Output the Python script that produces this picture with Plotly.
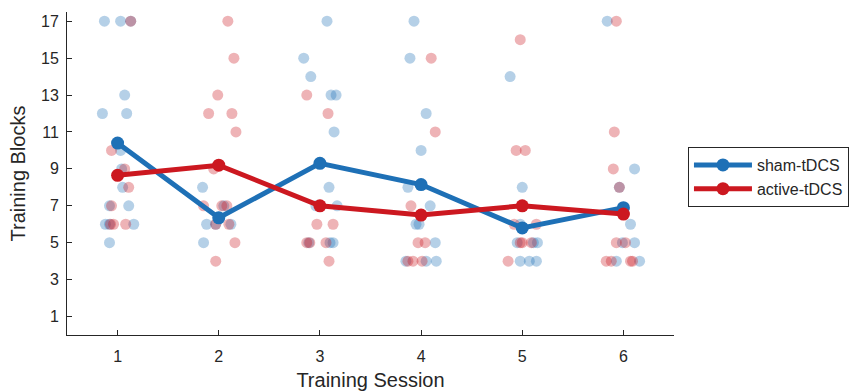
import plotly.graph_objects as go

sessions = [1, 2, 3, 4, 5, 6]
sham_mean = [10.4, 6.35, 9.3, 8.15, 5.8, 6.9]
active_mean = [8.65, 9.2, 7.0, 6.5, 7.0, 6.55]

sham_x = [0.87, 1.03, 1.13, 1.07, 0.85, 1.09, 1.03, 1.04, 1.05, 0.92, 1.11, 0.88, 0.92, 1.16, 0.92,
          1.84, 2.05, 1.88, 1.97, 2.12, 1.85,
          3.07, 2.84, 2.91, 3.11, 3.16, 3.14, 3.09, 3.17, 2.96, 3.10, 3.13, 2.89,
          3.93, 3.89, 4.05, 4.00, 3.87, 4.09, 3.95, 3.98, 4.14, 4.15, 4.05, 3.85,
          4.88, 5.00, 4.98, 4.95, 5.11, 5.15, 4.98, 5.07, 5.14,
          5.84, 6.11, 5.96, 6.07, 6.11, 5.99, 5.93, 6.16]
sham_y = [17, 17, 17, 13, 12, 12, 10, 9, 8, 7, 7, 6, 6, 6, 5,
          8, 7, 6, 6, 6, 5,
          17, 15, 14, 13, 13, 11, 8, 7, 7, 5, 5, 5,
          17, 15, 12, 10, 8, 7, 6, 6, 5, 4, 4, 4,
          14, 8, 6, 5, 5, 5, 4, 4, 4,
          17, 9, 8, 6, 5, 5, 4, 4]

active_x = [1.13, 0.94, 1.07, 1.11, 0.94, 0.93, 0.96, 1.08,
            2.09, 2.15, 1.99, 1.90, 2.13, 2.17, 1.95, 1.85, 2.03, 2.08, 1.97, 2.10, 2.16, 1.97,
            2.87, 3.08, 2.97, 3.13, 2.87, 2.90, 3.06, 3.09,
            4.10, 4.14, 3.90, 3.97, 4.04, 3.87, 3.92, 4.01,
            4.98, 4.94, 5.03, 4.92, 5.14, 4.98, 5.09, 4.86, 5.00,
            5.93, 5.91, 5.90, 5.96, 5.93, 6.02, 5.83, 5.88, 6.07, 6.09]
active_y = [17, 10, 9, 8, 7, 6, 6, 6,
            17, 15, 13, 12, 12, 11, 9, 7, 7, 7, 6, 6, 5, 4,
            13, 12, 6, 6, 5, 5, 5, 4,
            15, 11, 7, 5, 5, 4, 4, 4,
            16, 10, 10, 6, 6, 5, 5, 4, 5,
            17, 11, 9, 8, 5, 5, 4, 4, 4, 4]

y_ticks = [1, 3, 5, 7, 9, 11, 13, 15, 17]

BLUE = "rgb(30,112,182)"
RED = "rgb(204,24,32)"
FONT = "Arial, Liberation Sans, sans-serif"
AX = "#262626"

fig = go.Figure()
fig.add_trace(go.Scatter(x=sham_x, y=sham_y, mode="markers", showlegend=False,
                         marker=dict(size=11, color=BLUE, opacity=0.33, line=dict(width=0)),
                         hoverinfo="skip"))
fig.add_trace(go.Scatter(x=active_x, y=active_y, mode="markers", showlegend=False,
                         marker=dict(size=11, color=RED, opacity=0.33, line=dict(width=0)),
                         hoverinfo="skip"))
fig.add_trace(go.Scatter(x=sessions, y=sham_mean, mode="lines+markers", name="sham-tDCS",
                         line=dict(color=BLUE, width=5), marker=dict(size=13, color=BLUE)))
fig.add_trace(go.Scatter(x=sessions, y=active_mean, mode="lines+markers", name="active-tDCS",
                         line=dict(color=RED, width=5), marker=dict(size=13, color=RED)))

fig.update_layout(
    width=850, height=391,
    margin=dict(l=67, r=176, t=12, b=56, autoexpand=False),
    paper_bgcolor="white", plot_bgcolor="white",
    font=dict(family=FONT, size=16, color=AX),
    legend=dict(x=1.023, y=0.582, xanchor="left", yanchor="top",
                bordercolor=AX, borderwidth=1, bgcolor="white",
                font=dict(size=16, color=AX), itemwidth=58,
                tracegroupgap=0),
    xaxis=dict(range=[0.5, 6.5], tickvals=sessions, ticks="inside", ticklen=5,
               tickcolor=AX, showline=True, linecolor=AX, linewidth=1,
               showgrid=False, zeroline=False, automargin=False,
               ticklabelstandoff=7,
               title=dict(text="Training Session", font=dict(size=20), standoff=12)),
    yaxis=dict(range=[0, 17.5], tickvals=y_ticks, ticks="inside", ticklen=5,
               tickcolor=AX, showline=True, linecolor=AX, linewidth=1,
               showgrid=False, zeroline=False, automargin=False,
               ticklabelstandoff=4,
               title=dict(text="Training Blocks", font=dict(size=20), standoff=10)),
)

fig.write_html("out.html", config={"displayModeBar": False},
               post_script="document.body.style.margin='0';")
